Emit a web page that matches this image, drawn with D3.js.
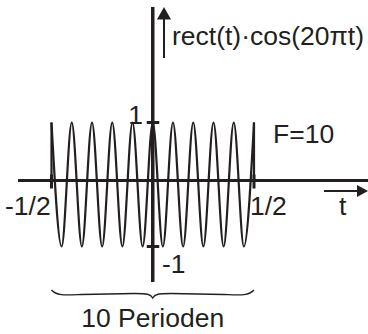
<!DOCTYPE html>
<html lang="de">
<meta charset="UTF-8">
<title>rect(t)·cos(20πt)</title>
<script src="https://d3js.org/d3.v7.min.js"></script>
<style>
html, body { margin: 0; padding: 0; background: #fff; }
text { font-family: "Liberation Sans", Arial, sans-serif; fill: #231f20; }
</style>
<body>
<div id="chart"></div>
<script>
// signal extrema (t, value)
var peakT = [-0.5, -0.45, -0.4, -0.35, -0.3, -0.25, -0.2, -0.15, -0.1, -0.05, 0,
             0.05, 0.1, 0.15, 0.2, 0.25, 0.3, 0.35, 0.4, 0.45, 0.5];
var peakV = [1, -1, 1, -1, 1, -1, 1, -1, 1, -1, 1,
             -1, 1, -1, 1, -1, 1, -1, 1, -1, 1];
// zero parts outside the rect, with the jump at the edges
var leftEdgeT = [-0.555, -0.5, -0.5];
var leftEdgeV = [0, 0, 1];
var rightEdgeT = [0.5, 0.5, 0.56];
var rightEdgeV = [1, 0, 0];

var xTicks = [-0.5, 0.5];
var xTickLabels = ["-1/2", "1/2"];
var yTicks = [1, -1];
var yTickLabels = ["1", "-1"];

var width = 368, height = 334;
var ink = "#231f20";

var svg = d3.select("#chart").append("svg")
    .attr("width", width)
    .attr("height", height);

var x = d3.scaleLinear().domain([-0.5, 0.5]).range([51.5, 254]);
var y = d3.scaleLinear().domain([-1, 0, 1]).range([246.5, 180.5, 122.5]);

// axes
svg.append("line")
    .attr("x1", 18).attr("x2", width)
    .attr("y1", y(0)).attr("y2", y(0))
    .attr("stroke", ink).attr("stroke-width", 3);
svg.append("line")
    .attr("x1", x(0)).attr("x2", x(0))
    .attr("y1", 7).attr("y2", 282)
    .attr("stroke", ink).attr("stroke-width", 3.5);

// y ticks
svg.selectAll(".ytick").data(yTicks).enter().append("line")
    .attr("x1", x(0) - 6).attr("x2", x(0) + 6.5)
    .attr("y1", d => y(d)).attr("y2", d => y(d))
    .attr("stroke", ink).attr("stroke-width", 3);
// x ticks
svg.selectAll(".xtick").data(xTicks).enter().append("line")
    .attr("x1", d => x(d)).attr("x2", d => x(d))
    .attr("y1", y(0) - 6).attr("y2", y(0) + 8)
    .attr("stroke", ink).attr("stroke-width", 3);

// signal
var line = d3.line().x(d => x(d[0])).y(d => y(d[1]));
svg.append("path")
    .datum(peakT.map((t, i) => [t, peakV[i]]))
    .attr("fill", "none").attr("stroke", ink).attr("stroke-width", 2.2)
    .attr("d", line.curve(d3.curveMonotoneX));
var edge = d3.line().x(d => x(d[0])).y(d => y(d[1]));
[[leftEdgeT, leftEdgeV], [rightEdgeT, rightEdgeV]].forEach(function(e) {
  svg.append("path")
      .datum(e[0].map((t, i) => [t, e[1][i]]))
      .attr("fill", "none").attr("stroke", ink).attr("stroke-width", 2.2)
      .attr("d", edge);
});

// arrows
svg.append("line")
    .attr("x1", 164).attr("x2", 164).attr("y1", 58).attr("y2", 17)
    .attr("stroke", ink).attr("stroke-width", 2);
svg.append("path")
    .attr("d", "M164,7L157,19.5L171,19.5Z").attr("fill", ink);
svg.append("line")
    .attr("x1", 324).attr("x2", 359).attr("y1", 191).attr("y2", 191)
    .attr("stroke", ink).attr("stroke-width", 2);
svg.append("path")
    .attr("d", "M368,191L357,185L357,197Z").attr("fill", ink);

// labels
var fs = "26.5px";
svg.append("text").attr("x", 172).attr("y", 45).style("font-size", fs)
    .text("rect(t)\u00b7cos(20\u03c0t)");
svg.append("text").attr("x", 143).attr("y", 124).attr("text-anchor", "end")
    .style("font-size", fs).text(yTickLabels[0]);
svg.append("text").attr("x", 162).attr("y", 273)
    .style("font-size", fs).text(yTickLabels[1]);
svg.append("text").attr("x", 5).attr("y", 215)
    .style("font-size", fs).text(xTickLabels[0]);
svg.append("text").attr("x", 250).attr("y", 215)
    .style("font-size", fs).text(xTickLabels[1]);
svg.append("text").attr("x", 273).attr("y", 143)
    .style("font-size", fs).text("F=10");
svg.append("text").attr("x", 339).attr("y", 215)
    .style("font-size", fs).text("t");

// brace under the signal
var bl = x(-0.5), bm = x(0), br = x(0.5);
svg.append("path")
    .attr("d", "M" + bl + ",290C" + (bl + 5) + ",296 " + (bl + 15) + ",295 " + (bl + 30) + ",294.5" +
               "L" + (bm - 18) + ",293.5C" + (bm - 6) + ",293.5 " + (bm - 2) + ",294 " + bm + ",298" +
               "C" + (bm + 2) + ",294 " + (bm + 6) + ",293.5 " + (bm + 18) + ",293.5" +
               "L" + (br - 30) + ",294.5C" + (br - 15) + ",295 " + (br - 5) + ",296 " + br + ",290")
    .attr("fill", "none").attr("stroke", ink).attr("stroke-width", 1.3);
svg.append("text").attr("x", bm).attr("y", 327).attr("text-anchor", "middle")
    .style("font-size", fs).text("10 Perioden");
</script>
</body>
</html>
